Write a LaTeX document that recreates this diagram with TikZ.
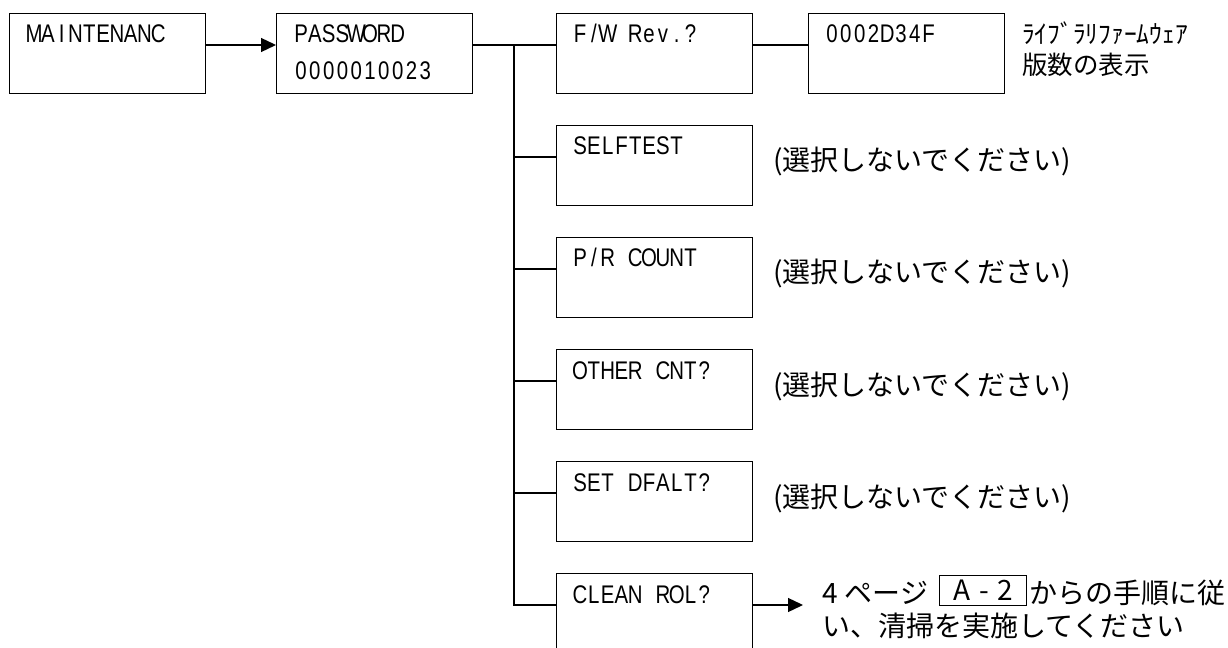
\documentclass[tikz,border=0pt]{standalone}
\usepackage{fontspec}
\setmainfont{Liberation Sans}
\newfontfamily\lblfamily[FakeStretch=0.8]{Liberation Sans}
\newfontfamily\jpfamily{Noto Sans CJK JP}
\usetikzlibrary{arrows.meta,calc}
\newcommand\monotext[1]{\monoloop#1\relax}
\def\monoloop#1{\ifx\relax#1\else\makebox[13.8bp]{#1}\expandafter\monoloop\fi}
\tikzset{
  box/.style={draw, line width=1.3bp, minimum width=196bp, minimum height=80bp, inner sep=0pt, anchor=north west},
  lbl/.style={anchor=base west, inner sep=0pt, font=\lblfamily\fontsize{25.5bp}{30bp}\selectfont},
  jp/.style={anchor=base west, inner sep=0pt, font=\jpfamily\fontsize{28bp}{32bp}\selectfont},
  jps/.style={anchor=base west, inner sep=0pt, font=\jpfamily\fontsize{25.5bp}{30bp}\selectfont},
  refbox/.style={draw, line width=1.3bp, minimum width=87bp, minimum height=30bp, inner sep=0pt, anchor=north west, font=\jpfamily\fontsize{28bp}{32bp}\selectfont},
  conn/.style={line width=1.3bp},
  arr/.style={conn, -{Triangle[length=15bp,width=14bp]}}
}
\begin{document}
\begin{tikzpicture}[x=1bp,y=-1bp]
\useasboundingbox (0,0) rectangle (1228,648);
% top row boxes
\node[box] (mnt) at (9,13) {};
\node[box] (pwd) at (276,13) {};
\node[box] (fw) at (556,13) {};
\node[box] (ver) at (808,13) {};
% menu items
\node[box] (st) at (556,125) {};
\node[box] (pr) at (556,237) {};
\node[box] (oth) at (556,349) {};
\node[box] (sd) at (556,461) {};
\node[box] (cl) at (556,573) {};
% labels
\node[lbl] (mntT) at (27,43) {\monotext{MAINTENANC}};
\node[lbl] (pwdT) at (294,43) {\monotext{PASSWORD}};
\node[lbl] (pwdN) at (294,80) {\monotext{0000010023}};
\node[lbl] (fwT) at (573,43) {\monotext{F/W~Rev.?}};
\node[lbl] (verT) at (825,43) {\monotext{0002D34F}};
\node[lbl] (stT) at (573,155) {\monotext{SELFTEST}};
\node[lbl] (prT) at (573,267) {\monotext{P/R~COUNT}};
\node[lbl] (othT) at (573,379) {\monotext{OTHER~CNT?}};
\node[lbl] (sdT) at (573,491) {\monotext{SET~DFALT?}};
\node[lbl] (clT) at (573,603) {\monotext{CLEAN~ROL?}};
% connectors
\coordinate (jTop) at (514,45);
\coordinate (jBot) at (514,605);
\draw[arr] ($(mnt.north east)+(0,32)$) -- ($(pwd.north west)+(0,32)$);
\draw[conn] ($(pwd.north east)+(0,32)$) -- ($(fw.north west)+(0,32)$);
\draw[conn] ($(fw.north east)+(0,32)$) -- ($(ver.north west)+(0,32)$);
\draw[conn] (jTop) -- (jBot) -- ($(cl.north west)+(0,32)$);
\draw[conn] ($(st.north west)+(0,32)$) -- ($(jTop)!($(st.north west)+(0,32)$)!(jBot)$);
\draw[conn] ($(pr.north west)+(0,32)$) -- ($(jTop)!($(pr.north west)+(0,32)$)!(jBot)$);
\draw[conn] ($(oth.north west)+(0,32)$) -- ($(jTop)!($(oth.north west)+(0,32)$)!(jBot)$);
\draw[conn] ($(sd.north west)+(0,32)$) -- ($(jTop)!($(sd.north west)+(0,32)$)!(jBot)$);
\coordinate (clTip) at (803,605);
\draw[arr] ($(cl.north east)+(0,32)$) -- (clTip);
% side notes
\node[jps] (fwN1) at (1022,44) {ﾗｲﾌﾞﾗﾘﾌｧｰﾑｳｪｱ};
\node[jps] (fwN2) at (1022,75) {版数の表示};
\node[jp] (stN) at (773,171) {(選択しないでください)};
\node[jp] (prN) at (773,283) {(選択しないでください)};
\node[jp] (othN) at (773,395) {(選択しないでください)};
\node[jp] (sdN) at (773,507) {(選択しないでください)};
\node[jp] (clN1) at (822,603) {4\hspace{7bp}ページ};
\node[refbox] (clRef) at (939,575) {A\hspace{9bp}-\hspace{9bp}2};
\node[jp] (clN2) at (1029,603) {からの手順に従};
\node[jp] (clN3) at (822,636) {い、清掃を実施してください};
\end{tikzpicture}
\end{document}
